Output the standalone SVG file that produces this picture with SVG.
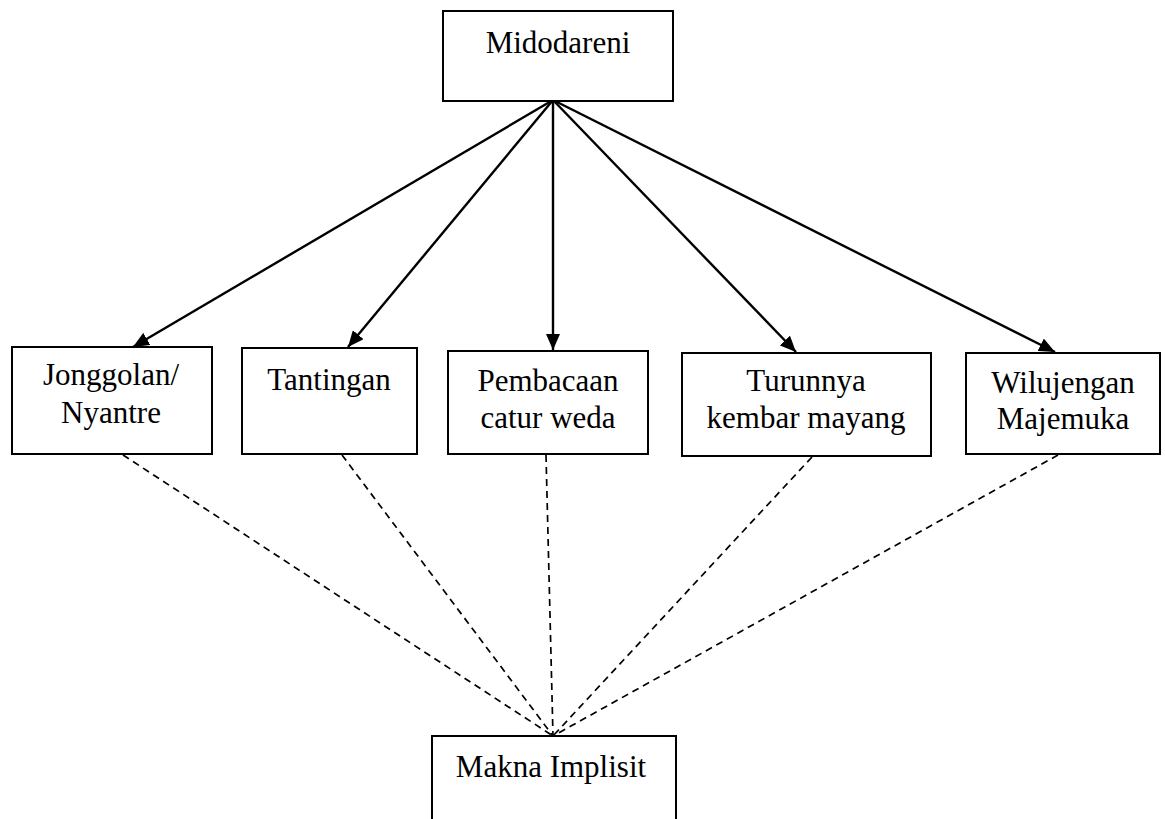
<svg xmlns="http://www.w3.org/2000/svg" width="1165" height="819" viewBox="0 0 1165 819">
<style>
.box{fill:#fff;stroke:#000;stroke-width:2}
.t{font-family:"Liberation Serif","Times New Roman",serif;font-size:31px;fill:#000;text-anchor:middle}
.arr{stroke:#000;stroke-width:2.4;fill:none;marker-end:url(#ah)}
.dash{stroke:#000;stroke-width:1.7;fill:none;stroke-dasharray:7 5}
</style>
<defs>
<marker id="ah" viewBox="0 0 16 14" refX="16" refY="7" markerWidth="16" markerHeight="14" markerUnits="userSpaceOnUse" orient="auto">
<path d="M0,0 L16,7 L0,14 Z" fill="#000"/>
</marker>
</defs>
<rect width="1165" height="819" fill="#fff"/>
<g id="connectors">
<line class="arr" x1="553" y1="100" x2="133" y2="347"/>
<line class="arr" x1="553" y1="100" x2="348" y2="347"/>
<line class="arr" x1="553" y1="100" x2="553" y2="350"/>
<line class="arr" x1="553" y1="100" x2="796" y2="352"/>
<line class="arr" x1="553" y1="100" x2="1055" y2="352"/>
<line class="dash" x1="123" y1="455" x2="553" y2="736"/>
<line class="dash" x1="342" y1="455" x2="553" y2="736"/>
<line class="dash" x1="546" y1="455" x2="553" y2="736"/>
<line class="dash" x1="812" y1="457" x2="553" y2="736"/>
<line class="dash" x1="1058" y1="455" x2="553" y2="736"/>
</g>
<g id="midodareni">
<rect class="box" x="443" y="11" width="230" height="90"/>
<text class="t" x="558" y="53">Midodareni</text>
</g>
<g id="jonggolan">
<rect class="box" x="12" y="347" width="200" height="107"/>
<text class="t" x="111" y="385">Jonggolan/</text>
<text class="t" x="111" y="423">Nyantre</text>
</g>
<g id="tantingan">
<rect class="box" x="242" y="348" width="175" height="106"/>
<text class="t" x="329" y="390">Tantingan</text>
</g>
<g id="pembacaan">
<rect class="box" x="448" y="351" width="200" height="103"/>
<text class="t" x="548" y="391">Pembacaan</text>
<text class="t" x="548" y="428">catur weda</text>
</g>
<g id="turunnya">
<rect class="box" x="682" y="353" width="249" height="103"/>
<text class="t" x="806" y="391">Turunnya</text>
<text class="t" x="806" y="428">kembar mayang</text>
</g>
<g id="wilujengan">
<rect class="box" x="966" y="353" width="194" height="101"/>
<text class="t" x="1063" y="393">Wilujengan</text>
<text class="t" x="1063" y="429">Majemuka</text>
</g>
<g id="makna">
<rect class="box" x="432" y="736" width="244" height="100"/>
<text class="t" x="551" y="777">Makna Implisit</text>
</g>
</svg>
